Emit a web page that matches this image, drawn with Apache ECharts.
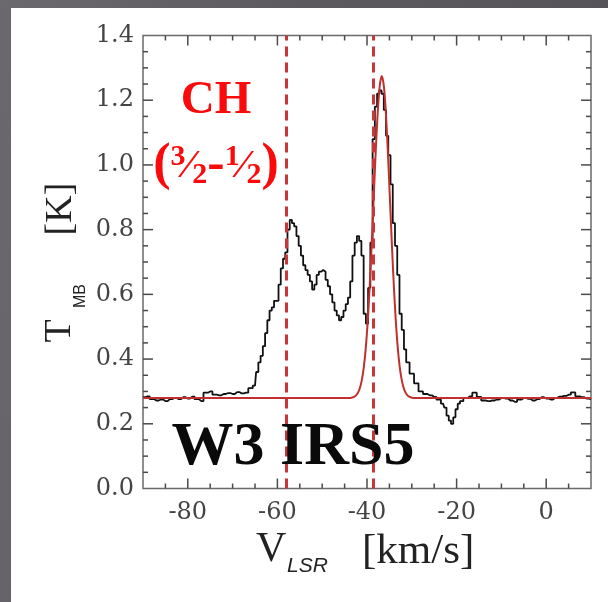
<!DOCTYPE html>
<html>
<head>
<meta charset="utf-8">
<script src="https://cdn.jsdelivr.net/npm/echarts@6/dist/echarts.min.js"></script>
<style>
  html, body { margin: 0; padding: 0; width: 608px; height: 602px; overflow: hidden;
    background: linear-gradient(100deg, #6c696e 0%, #5d5a60 40%, #545157 100%); }
  #panel { position: absolute; left: 11px; top: 8px; width: 597px; height: 594px; background: #ffffff; }
  #chart { width: 597px; height: 594px; }
</style>
</head>
<body>
<div id="panel"><div id="chart"></div></div>
<script>
// ---- data ----
const velocity = [-90,-89,-88,-87,-86,-85,-84,-83,-82,-81,-80,-79,-78,-77,-76,-75,-74,-73,-72,-71,-70,-69,-68,-67,-66,-65,
  -64.5,-64,-63.5,-63,-62.5,-62,-61.5,-61,-60.5,-60,-59.5,-59,-58.5,-58,-57.5,-57,-56.5,-56,-55.5,-55,-54.5,-54,-53.5,-53,
  -52.5,-52,-51.5,-51,-50.5,-50,-49.5,-49,-48.5,-48,-47.5,-47,-46.5,-46,-45.5,-45,-44.5,-44,-43.5,-43,-42.5,-42,-41.5,-41,
  -40.5,-40,-39.5,-39,-38.5,-38,-37.5,-37,-36.5,-36,-35.5,-35,-34.5,-34,-33.5,-33,-32.5,-32,-31.5,-31,-30,-29,-28,-27,-26,
  -25,-24,-23,-22.5,-22,-21.5,-21,-20.5,-20,-19.5,-19,-18,-17,-16,-15,-14,-13,-12,-11,-10,-9,-8,-7,-6,-5,-4,-3,-2,-1,0,
  1,2,3,4,5,6,7,8,9,10];
const tmb = [0.282,0.285,0.276,0.272,0.275,0.270,0.276,0.280,0.276,0.282,0.278,0.284,0.276,0.270,0.296,0.300,0.290,0.288,0.292,0.295,0.292,0.298,0.294,0.296,0.310,0.318,
  0.36,0.39,0.41,0.44,0.48,0.52,0.55,0.56,0.58,0.58,0.63,0.68,0.71,0.73,0.80,0.83,0.82,0.81,0.78,0.75,0.72,0.69,0.675,0.66,
  0.64,0.615,0.63,0.66,0.67,0.675,0.67,0.645,0.625,0.60,0.575,0.55,0.535,0.52,0.53,0.55,0.57,0.59,0.64,0.72,0.76,0.78,0.765,0.72,
  0.54,0.51,0.62,0.76,1.08,1.18,1.22,1.23,1.22,1.17,1.09,1.03,0.94,0.82,0.75,0.66,0.54,0.49,0.43,0.39,0.355,0.325,0.30,0.292,0.288,
  0.283,0.275,0.262,0.25,0.225,0.21,0.20,0.22,0.245,0.262,0.27,0.28,0.285,0.296,0.283,0.272,0.27,0.272,0.275,0.28,0.278,0.272,0.268,0.275,0.28,0.277,0.272,0.276,0.282,0.278,
  0.275,0.28,0.284,0.286,0.29,0.297,0.285,0.282,0.278,0.276];
const fitVelocity = [-90,-43.7,-42.7,-42.2,-41.7,-41.2,-40.7,-40.2,-39.7,-39.2,-38.7,-38.2,-37.7,-37.2,-36.7,-36.2,-35.7,-35.2,-34.7,-34.2,-33.7,-33.2,-32.7,-32.2,-31.7,-31.2,-30.7,-29.7,10];
const fitTmb = [0.28,0.28,0.285,0.292,0.306,0.332,0.376,0.446,0.548,0.68,0.835,0.997,1.14,1.239,1.275,1.239,1.14,0.997,0.835,0.68,0.548,0.446,0.376,0.332,0.306,0.292,0.285,0.28,0.28];
const dashedVelocities = [-58, -38.6];
const xMajorTicks = [-80, -60, -40, -20, 0];
const xMinorTicks = [-85, -75, -70, -65, -55, -50, -45, -35, -30, -25, -15, -10, -5, 5];
const yMajorTicks = [0.2, 0.4, 0.6, 0.8, 1.0, 1.2];
const yMinorTicks = [0.05, 0.1, 0.15, 0.25, 0.3, 0.35, 0.45, 0.5, 0.55, 0.65, 0.7, 0.75, 0.85, 0.9, 0.95, 1.05, 1.1, 1.15, 1.25, 1.3, 1.35];
const xRange = [-90, 10];
const yRange = [0, 1.4];

// ---- chart ----
const OX = 11, OY = 8;
const axisColor = '#6a6a6a';
const tickColor = '#4a4a4a';
const chart = echarts.init(document.getElementById('chart'));

const spectrum = velocity.map((v, i) => [v, tmb[i]]);
const fit = fitVelocity.map((v, i) => [v, fitTmb[i]]);

chart.setOption({
  animation: false,
  grid: { left: 143 - OX, right: 17, top: 35.5 - OY, bottom: 602 - 488.5,
    show: true, borderColor: axisColor, borderWidth: 1.5, backgroundColor: 'transparent' },
  xAxis: [{
    type: 'value', min: xRange[0], max: xRange[1], position: 'bottom',
    splitLine: { show: false }, axisLine: { show: false }, axisTick: { show: false },
    axisLabel: { show: true, margin: 12, color: '#444', fontFamily: 'DejaVu Serif', fontSize: 24,
      showMinLabel: false, showMaxLabel: false,
      formatter: v => (xMajorTicks.indexOf(v) >= 0 ? String(v) : '') }
  }],
  yAxis: [{
    type: 'value', min: yRange[0], max: yRange[1], interval: 0.2, position: 'left',
    splitLine: { show: false }, axisLine: { show: false }, axisTick: { show: false },
    axisLabel: { show: true, margin: 9, color: '#444', fontFamily: 'DejaVu Serif', fontSize: 24,
      formatter: v => v.toFixed(1) }
  }],
  series: [
    { type: 'line', data: spectrum, showSymbol: false, symbol: 'none', z: 3, step: 'middle',
      lineStyle: { color: '#111111', width: 1.8 } },
    { type: 'line', data: fit, showSymbol: false, symbol: 'none', smooth: 0.3, z: 4,
      lineStyle: { color: '#c0302c', width: 2 },
      markLine: { silent: true, symbol: 'none', label: { show: false }, animation: false,
        lineStyle: { color: '#c9363a', width: 3, type: [10, 6] },
        data: dashedVelocities.map(v => ({ xAxis: v })) } }
  ]
});

// tick marks on all four sides, positioned through the chart's own axis scales
const toPx = p => chart.convertToPixel({ xAxisIndex: 0, yAxisIndex: 0 }, p);
const ticks = [];
function tickEl(x1, y1, x2, y2) {
  return { type: 'line', z: 20, silent: true, shape: { x1: x1, y1: y1, x2: x2, y2: y2 },
    style: { stroke: tickColor, lineWidth: 1.5 } };
}
function addXTicks(values, len) {
  values.forEach(v => {
    const b = toPx([v, yRange[0]]), t = toPx([v, yRange[1]]);
    ticks.push(tickEl(b[0], b[1], b[0], b[1] - len));
    ticks.push(tickEl(t[0], t[1], t[0], t[1] + len));
  });
}
function addYTicks(values, len) {
  values.forEach(v => {
    const l = toPx([xRange[0], v]), r = toPx([xRange[1], v]);
    ticks.push(tickEl(l[0], l[1], l[0] + len, l[1]));
    ticks.push(tickEl(r[0], r[1], r[0] - len, r[1]));
  });
}
addXTicks(xMajorTicks, 10);
addXTicks(xMinorTicks, 5);
addYTicks(yMajorTicks, 10);
addYTicks(yMinorTicks, 5);

const texts = [
  { type: 'text', x: 216 - OX, y: 101 - OY, z: 10,
    style: { text: 'CH', align: 'center', verticalAlign: 'middle', fill: '#fa0a0a', font: 'bold 47px "Liberation Serif"' } },
  { type: 'text', x: 216 - OX, y: 166 - OY, z: 10,
    style: { text: '{p|(}{sup|3}{sl|\u2044}{sub|2}{p|-}{sup|1}{sl|\u2044}{sub|2}{p|)}', align: 'center', verticalAlign: 'middle',
      rich: {
        p: { fontFamily: 'Liberation Serif', fontWeight: 'bold', fontSize: 52, fill: '#fa0a0a', verticalAlign: 'middle' },
        sup: { fontFamily: 'Liberation Serif', fontWeight: 'bold', fontSize: 30, fill: '#fa0a0a', padding: [0, 0, 18, 0], verticalAlign: 'middle' },
        sub: { fontFamily: 'Liberation Serif', fontWeight: 'bold', fontSize: 30, fill: '#fa0a0a', padding: [18, 0, 0, 0], verticalAlign: 'middle' },
        sl: { fontFamily: 'Liberation Serif', fontWeight: 'bold', fontSize: 41, fill: '#fa0a0a', verticalAlign: 'middle' }
      } } },
  { type: 'text', x: 293 - OX, y: 448 - OY, z: 10,
    style: { text: 'W3 IRS5', align: 'center', verticalAlign: 'middle', fill: '#0a0a0a', font: 'bold 62px "Liberation Serif"' } },
  { type: 'text', x: 256 - OX, y: 550 - OY, z: 10,
    style: { text: 'V', align: 'left', verticalAlign: 'middle', fill: '#222', font: '42px "Liberation Serif"' } },
  { type: 'text', x: 287 - OX, y: 566 - OY, z: 10,
    style: { text: 'LSR', align: 'left', verticalAlign: 'middle', fill: '#222', font: 'italic 21px "Liberation Sans"' } },
  { type: 'text', x: 362 - OX, y: 552 - OY, z: 10,
    style: { text: '[km/s]', align: 'left', verticalAlign: 'middle', fill: '#222', font: '43px "Liberation Serif"' } },
  { type: 'text', x: 60 - OX, y: 331 - OY, rotation: Math.PI / 2, z: 10,
    style: { text: 'T', align: 'center', verticalAlign: 'middle', fill: '#222', font: '38px "Liberation Serif"' } },
  { type: 'text', x: 81 - OX, y: 296 - OY, rotation: Math.PI / 2, z: 10,
    style: { text: 'MB', align: 'center', verticalAlign: 'middle', fill: '#222', font: '16px "Liberation Sans"' } },
  { type: 'text', x: 61 - OX, y: 209 - OY, rotation: Math.PI / 2, z: 10,
    style: { text: '[K]', align: 'center', verticalAlign: 'middle', fill: '#222', font: '38px "Liberation Serif"' } }
];
chart.setOption({ graphic: texts.concat(ticks) });
</script>
</body>
</html>
